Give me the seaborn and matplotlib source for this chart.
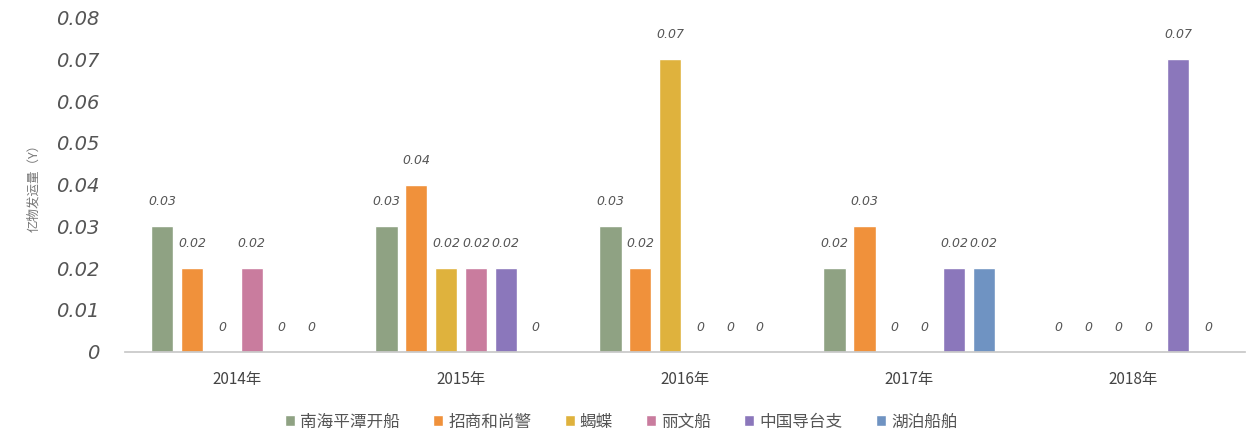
import pandas as pd
import matplotlib
matplotlib.use("Agg")
import matplotlib.pyplot as plt
import seaborn as sns

# 数据
years = ["2014年", "2015年", "2016年", "2017年", "2018年"]
companies = ["南海平潭开船", "招商和尚警", "蝎蝶", "丽文船", "中国导台支", "湖泊船舶"]
v_nanhai = [0.03, 0.03, 0.03, 0.02, 0]
v_zhaoshang = [0.02, 0.04, 0.02, 0.03, 0]
v_xie = [0, 0.02, 0.07, 0, 0]
v_liwen = [0.02, 0.02, 0, 0, 0]
v_zhongguo = [0, 0.02, 0, 0.02, 0.07]
v_hupo = [0, 0, 0, 0.02, 0]
colors = ["#8fa283", "#f0913b", "#dfb23d", "#c97c9e", "#8b77bb", "#6f93c2"]
ylabel = "亿物发运量（Y）"

series = [v_nanhai, v_zhaoshang, v_xie, v_liwen, v_zhongguo, v_hupo]
rows = []
for name, vals in zip(companies, series):
    for yr, v in zip(years, vals):
        rows.append({"年份": yr, "公司": name, "数值": v})
df = pd.DataFrame(rows)

sns.set_theme(style="white")
plt.rcParams["font.family"] = ["Noto Sans CJK SC", "DejaVu Sans"]

fig, ax = plt.subplots(figsize=(12.49, 4.37), dpi=100)
sns.barplot(data=df, x="年份", y="数值", hue="公司", palette=colors,
            width=0.8, gap=0.25, saturation=1, ax=ax)

def fmt(v):
    return "0" if v == 0 else f"{v:.2f}"

num_font = ["DejaVu Sans"]
for cont in ax.containers:
    ax.bar_label(cont, labels=[fmt(b.get_height()) for b in cont],
                 padding=13, fontsize=9, color="#555555", style="italic",
                 family=num_font)

ax.set_ylim(0, 0.08)
ax.set_yticks([i / 100 for i in range(9)])
ax.set_yticklabels(["0"] + [f"{i/100:.2f}" for i in range(1, 9)],
                   fontsize=14, color="#555555", style="italic", family=num_font)
ax.tick_params(axis="x", labelsize=11, colors="#444444", length=0, pad=14)
ax.tick_params(axis="y", length=0, pad=18)
ax.set_xlabel("")
ax.set_ylabel(ylabel, fontsize=9, color="#777777", labelpad=12)
ax.set_xlim(-0.5, 4.5)

for s in ["top", "right", "left"]:
    ax.spines[s].set_visible(False)
ax.spines["bottom"].set_color("#c8c8c8")

ax.legend(loc="upper center", bbox_to_anchor=(0.443, -0.14), ncol=6, frameon=False,
          fontsize=12, handlelength=0.6, handleheight=0.6, handletextpad=0.3,
          columnspacing=2.0, labelcolor="#555555")

fig.subplots_adjust(left=0.1, right=0.997, top=0.96, bottom=0.195)
fig.savefig("out.png", dpi=100)
